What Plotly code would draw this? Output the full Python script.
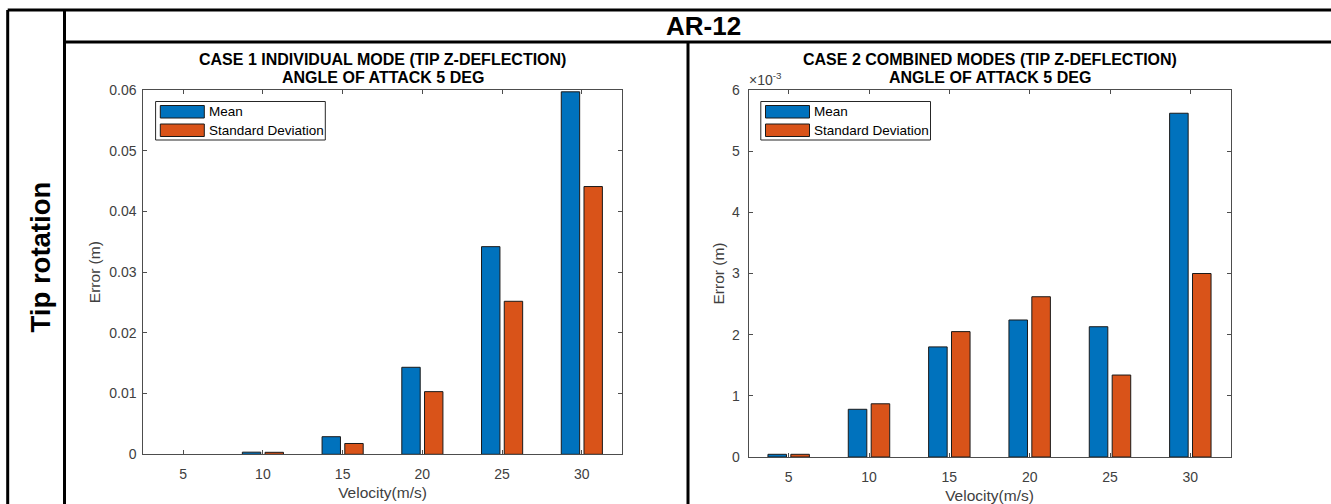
import plotly.graph_objects as go

# ---------------- data ----------------
velocity = [5, 10, 15, 20, 25, 30]
velocity_ticks = ["5", "10", "15", "20", "25", "30"]

case1_mean = [0.0, 0.00035, 0.0029, 0.01433, 0.0342, 0.0597]
case1_std = [0.0, 0.00033, 0.00178, 0.01032, 0.0252, 0.0441]

case2_mean = [0.000044, 0.00078, 0.00180, 0.00224, 0.00213, 0.00562]
case2_std = [0.000044, 0.00087, 0.00205, 0.00262, 0.00134, 0.00300]

case1_yticks = [0, 0.01, 0.02, 0.03, 0.04, 0.05, 0.06]
case1_yticktext = ["0", "0.01", "0.02", "0.03", "0.04", "0.05", "0.06"]
case2_yticks = [0, 0.001, 0.002, 0.003, 0.004, 0.005, 0.006]
case2_yticktext = ["0", "1", "2", "3", "4", "5", "6"]

series_names = ["Mean", "Standard Deviation"]
title1 = ["CASE 1 INDIVIDUAL MODE (TIP Z-DEFLECTION)", "ANGLE OF ATTACK 5 DEG"]
title2 = ["CASE 2 COMBINED MODES (TIP Z-DEFLECTION)", "ANGLE OF ATTACK 5 DEG"]
xlabel = "Velocity(m/s)"
ylabel = "Error (m)"
header_text = "AR-12"
row_text = "Tip rotation"
exp_text = "×10<sup>-3</sup>"

# ---------------- style ----------------
W, H = 1331, 504
BLUE = "#0072BD"
ORANGE = "#D95319"
EDGE = "#1a1a1a"
AXC = "#4d4d4d"
TXT = "#404040"
FONT = "Arial, Liberation Sans, sans-serif"

# axes boxes in pixels (left, right, top, bottom)
box1 = (143.3, 621.7, 90.0, 454.3)
box2 = (748.5, 1230.5, 90.0, 457.0)


def xdom(b):
    return [b[0] / W, b[1] / W]


def ydom(b):
    return [1 - b[3] / H, 1 - b[2] / H]


fig = go.Figure()


def add_bars(vals, name, col, xa, ya):
    fig.add_trace(go.Bar(x=velocity, y=vals, name=name,
                         marker=dict(color=col, line=dict(color=EDGE, width=[0 if v == 0 else 1 for v in vals])),
                         xaxis=xa, yaxis=ya, showlegend=False))


add_bars(case1_mean, series_names[0], BLUE, "x", "y")
add_bars(case1_std, series_names[1], ORANGE, "x", "y")
add_bars(case2_mean, series_names[0], BLUE, "x2", "y2")
add_bars(case2_std, series_names[1], ORANGE, "x2", "y2")

common_ax = dict(showline=True, linecolor=AXC, linewidth=1, mirror="ticks", ticks="inside", ticklen=4,
                 tickcolor=AXC, tickwidth=1, showgrid=False, zeroline=False, automargin=False,
                 tickfont=dict(family=FONT, size=14, color=TXT))

xcommon = dict(common_ax, range=[2.5, 32.5], tickvals=velocity, ticktext=velocity_ticks,
               ticklabelstandoff=7,
               title=dict(text=xlabel, font=dict(family=FONT, size=15.5, color=TXT), standoff=6))

fig.update_layout(
    width=W, height=H, autosize=False, margin=dict(l=0, r=0, t=0, b=0, autoexpand=False),
    paper_bgcolor="white", plot_bgcolor="white",
    barmode="group", bargap=0.43, bargroupgap=0.19,
    showlegend=False,
    xaxis=dict(xcommon, domain=xdom(box1), anchor="y"),
    yaxis=dict(common_ax, domain=ydom(box1), anchor="x", range=[0, 0.06],
               tickvals=case1_yticks, ticktext=case1_yticktext, ticklabelstandoff=3,
               title=dict(text=ylabel, font=dict(family=FONT, size=15.5, color=TXT), standoff=4.6)),
    xaxis2=dict(xcommon, domain=xdom(box2), anchor="y2"),
    yaxis2=dict(common_ax, domain=ydom(box2), anchor="x2", range=[0, 0.006],
                tickvals=case2_yticks, ticktext=case2_yticktext, ticklabelstandoff=5,
                title=dict(text=ylabel, font=dict(family=FONT, size=15.5, color=TXT), standoff=2.5)),
)

shapes = []
annotations = []


def pline(x0, y0, x1, y1):
    shapes.append(dict(type="line", xref="paper", yref="paper",
                       x0=x0 / W, x1=x1 / W, y0=1 - y0 / H, y1=1 - y1 / H,
                       line=dict(color="black", width=3)))


# table grid lines
pline(7.7, 10, W, 10)
pline(7.7, 10, 7.7, H)
pline(64.5, 10, 64.5, H)
pline(64.5, 42, W, 42)
pline(688, 42, 688, H)

annotations.append(dict(text="<b>%s</b>" % header_text, xref="paper", yref="paper",
                        x=703.5 / W, y=1 - 25.5 / H, showarrow=False, xanchor="center", yanchor="middle",
                        font=dict(family=FONT, size=26, color="black")))
annotations.append(dict(text="<b>%s</b>" % row_text, xref="paper", yref="paper",
                        x=40 / W, y=1 - 257.5 / H, showarrow=False, xanchor="center", yanchor="middle",
                        textangle=-90, font=dict(family=FONT, size=27.5, color="black")))

for box, ttl in [(box1, title1), (box2, title2)]:
    cx = (box[0] + box[1]) / 2
    for line_txt, ypx in zip(ttl, [59, 77.5]):
        annotations.append(dict(text="<b>%s</b>" % line_txt, xref="paper", yref="paper",
                                x=cx / W, y=1 - ypx / H, showarrow=False, xanchor="center", yanchor="middle",
                                font=dict(family=FONT, size=16, color="black")))

annotations.append(dict(text=exp_text, xref="paper", yref="paper", x=747 / W, y=1 - 79 / H,
                        showarrow=False, xanchor="left", yanchor="middle",
                        font=dict(family=FONT, size=14, color=TXT)))

# MATLAB-style legends
for box in (box1, box2):
    L = box[0]
    bx0, bx1 = L + 12.3, L + 182
    by0, by1 = 101.5, 140
    shapes.append(dict(type="rect", xref="paper", yref="paper",
                       x0=bx0 / W, x1=bx1 / W, y0=1 - by1 / H, y1=1 - by0 / H,
                       line=dict(color="#262626", width=1), fillcolor="white"))
    for i, (name, col) in enumerate(zip(series_names, [BLUE, ORANGE])):
        sy0 = 105.5 + i * 18.5
        sy1 = sy0 + 12.5
        shapes.append(dict(type="rect", xref="paper", yref="paper",
                           x0=(L + 17) / W, x1=(L + 61) / W, y0=1 - sy1 / H, y1=1 - sy0 / H,
                           line=dict(color=EDGE, width=1), fillcolor=col))
        annotations.append(dict(text=name, xref="paper", yref="paper",
                                x=(L + 63.5) / W, y=1 - (sy0 + sy1) / 2 / H, showarrow=False,
                                xanchor="left", yanchor="middle",
                                font=dict(family=FONT, size=13.5, color="black")))

fig.update_layout(shapes=shapes, annotations=annotations)

fix_js = (
    "document.documentElement.style.margin='0';document.documentElement.style.padding='0';"
    "document.body.style.margin='0';document.body.style.padding='0';"
    "document.documentElement.style.overflow='hidden';document.body.style.overflow='hidden';"
)

fig.write_html("out.html", post_script=fix_js)
